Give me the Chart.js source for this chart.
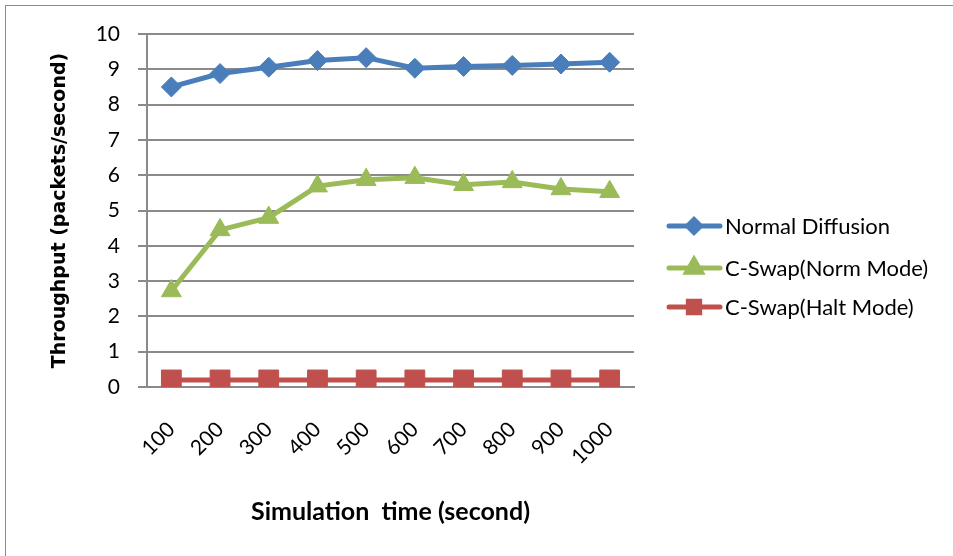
<!DOCTYPE html>
<html>
<head>
<meta charset="utf-8">
<script src="https://cdn.jsdelivr.net/npm/chart.js@4/dist/chart.umd.min.js"></script>
<style>
  body { margin: 0; background: #fff; overflow: hidden; }
  #frame { position: absolute; left: 5px; top: 5px; width: 1000px; height: 1000px; border: 1px solid #8c8c8c; }
  #wrap { position: absolute; left: 0; top: 0; width: 953px; height: 556px; }
</style>
</head>
<body>
<div id="frame"></div>
<div id="wrap"><canvas id="chart" width="953" height="556"></canvas></div>
<script>
const categories = ['100', '200', '300', '400', '500', '600', '700', '800', '900', '1000'];
const normalDiffusion = [8.5, 8.88, 9.06, 9.25, 9.33, 9.03, 9.08, 9.11, 9.15, 9.2];
const cswapNorm = [2.72, 4.45, 4.8, 5.69, 5.87, 5.93, 5.73, 5.81, 5.61, 5.53];
const cswapHalt = [0.2, 0.2, 0.2, 0.2, 0.2, 0.2, 0.2, 0.2, 0.2, 0.2];
const seriesNames = ['Normal Diffusion', 'C-Swap(Norm Mode)', 'C-Swap(Halt Mode)'];
const yTicks = [0, 1, 2, 3, 4, 5, 6, 7, 8, 9, 10];

const gridGray = '#8a8a8a';

// legend drawn by hand: line + marker like Excel
const excelLegend = {
  id: 'excelLegend',
  afterDraw(chart) {
    const ctx = chart.ctx;
    const rows = [226, 268, 307];
    const sizes = [6.5, 8.5, 8];
    chart.data.datasets.forEach((ds, i) => {
      const y = rows[i];
      ctx.save();
      ctx.strokeStyle = ds.borderColor;
      ctx.lineWidth = 5;
      ctx.lineCap = 'round';
      ctx.beginPath();
      ctx.moveTo(669, y);
      ctx.lineTo(720, y);
      ctx.stroke();
      ctx.fillStyle = ds.pointBackgroundColor;
      ctx.strokeStyle = ds.pointBackgroundColor;
      Chart.helpers.drawPoint(ctx, {
        pointStyle: ds.pointStyle, radius: sizes[i], borderWidth: 1, rotation: 0
      }, 694, y);
      ctx.fillStyle = '#000';
      ctx.font = '22px Lato';
      ctx.textBaseline = 'middle';
      ctx.textAlign = 'left';
      ctx.fillText(ds.label, 725, y + 1);
      ctx.restore();
    });
  }
};

new Chart(document.getElementById('chart'), {
  type: 'line',
  data: {
    labels: categories,
    datasets: [
      { label: seriesNames[0], data: normalDiffusion, borderColor: '#4a7ebb', backgroundColor: '#4a7ebb',
        pointBackgroundColor: '#4a7ebb', pointBorderColor: '#4a7ebb', pointStyle: 'rectRot', pointRadius: 10 },
      { label: seriesNames[1], data: cswapNorm, borderColor: '#9bbb59', backgroundColor: '#9bbb59',
        pointBackgroundColor: '#9bbb59', pointBorderColor: '#9bbb59', pointStyle: 'triangle', pointRadius: 11.5 },
      { label: seriesNames[2], data: cswapHalt, borderColor: '#c0504d', backgroundColor: '#c0504d',
        pointBackgroundColor: '#c0504d', pointBorderColor: '#c0504d', pointStyle: 'rect', pointRadius: 14 }
    ]
  },
  options: {
    responsive: false,
    animation: false,
    devicePixelRatio: 1,
    layout: { padding: { left: 0, right: 319, top: 34, bottom: 0 } },
    elements: {
      line: { borderWidth: 5, tension: 0 },
      point: { borderWidth: 1, hoverRadius: 10 }
    },
    plugins: {
      legend: { display: false },
      tooltip: { enabled: false }
    },
    scales: {
      x: {
        offset: true,
        grid: { display: false, drawTicks: false },
        border: { display: true, color: gridGray, width: 2 },
        ticks: { color: '#000', font: { family: 'Lato', size: 21 }, maxRotation: 45, minRotation: 45, padding: 30 },
        title: { display: true, text: 'Simulation  time (second)', color: '#000',
                 font: { family: 'Lato', size: 25, weight: 'bold' }, padding: { top: 0, bottom: 29 } },
        afterFit(scale) { scale.height = 169; }
      },
      y: {
        min: 0,
        max: 10,
        afterBuildTicks(scale) { scale.ticks = yTicks.map(v => ({ value: v })); },
        grid: { color: gridGray, lineWidth: 2, tickLength: 9 },
        border: { display: true, color: gridGray, width: 2 },
        ticks: { color: '#000', font: { family: 'Lato', size: 21 }, padding: 18 },
        title: { display: true, text: 'Throughput (packets/second)', color: '#000',
                 font: { family: 'DejaVu Sans', size: 19, weight: 'bold' }, padding: { top: 49, bottom: 0 } },
        afterFit(scale) { scale.width = 147; }
      }
    }
  },
  plugins: [excelLegend]
});
</script>
</body>
</html>
